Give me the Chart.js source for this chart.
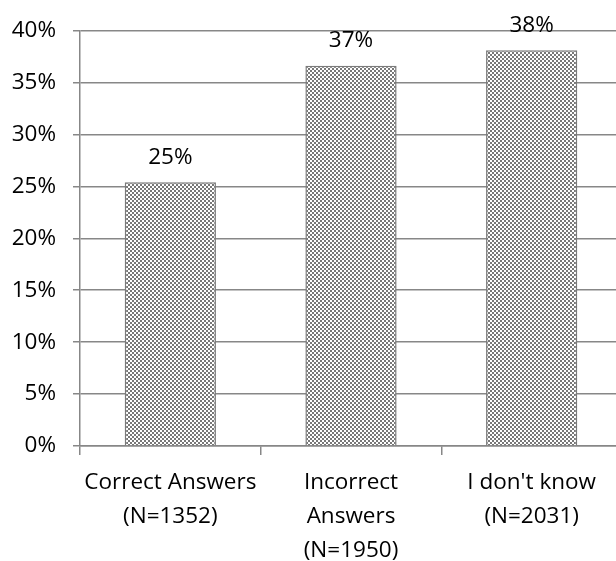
<!DOCTYPE html>
<html>
<head>
<meta charset="utf-8">
<script src="https://cdn.jsdelivr.net/npm/chart.js@4/dist/chart.umd.min.js"></script>
<style>
  html, body { margin: 0; padding: 0; background: #fff; overflow: hidden; }
  #wrap { width: 640px; height: 561px; }
</style>
</head>
<body>
<div id="wrap"><canvas id="chart" width="640" height="561"></canvas></div>
<script>
// answer categories (multi-line tick labels)
var categories = [
  ["Correct Answers", "(N=1352)"],
  ["Incorrect", "Answers", "(N=1950)"],
  ["I don't know", "(N=2031)"]
];
// share of answers, percent
var shares = [25.4, 36.6, 38.1];
var yTicks = [0, 5, 10, 15, 20, 25, 30, 35, 40];

var gridColor = "#878787";
var fontFamily = "'Open Sans', Lato, sans-serif";

function makePattern() {
  var c = document.createElement("canvas");
  c.width = 4; c.height = 4;
  var g = c.getContext("2d");
  g.fillStyle = "#ffffff";
  g.fillRect(0, 0, 4, 4);
  g.fillStyle = "#787878";
  g.fillRect(0, 0, 2, 2);
  g.fillRect(2, 2, 2, 2);
  return g.createPattern(c, "repeat");
}

var valueLabels = {
  id: "valueLabels",
  afterDatasetsDraw: function(chart) {
    var ctx = chart.ctx;
    var meta = chart.getDatasetMeta(0);
    ctx.save();
    ctx.font = "22.5px " + fontFamily;
    ctx.fillStyle = "#000";
    ctx.textAlign = "center";
    ctx.textBaseline = "middle";
    meta.data.forEach(function(bar, i) {
      var v = chart.data.datasets[0].data[i];
      ctx.fillText(Math.round(v) + "%", bar.x, bar.y - 25);
    });
    ctx.restore();
  }
};

var ctx = document.getElementById("chart");
var myChart = new Chart(ctx, {
  type: "bar",
  data: {
    labels: categories,
    datasets: [{
      data: shares,
      backgroundColor: makePattern(),
      borderColor: "#7a7a7a",
      borderWidth: 1.5,
      categoryPercentage: 1,
      barPercentage: 0.505
    }]
  },
  options: {
    responsive: false,
    animation: false,
    layout: { padding: { top: 27, right: 18, left: 0, bottom: 0 } },
    plugins: {
      legend: { display: false },
      tooltip: { enabled: false }
    },
    scales: {
      x: {
        grid: {
          offset: true,
          drawOnChartArea: false,
          drawTicks: true,
          tickLength: 9,
          color: gridColor,
          lineWidth: 1.5
        },
        border: { color: gridColor, width: 1.5 },
        ticks: {
          color: "#000",
          font: { family: fontFamily, size: 22.5, lineHeight: 1.53 },
          padding: 10,
          maxRotation: 0,
          autoSkip: false
        },
        afterFit: function(scale) { scale.height = 115; }
      },
      y: {
        min: 0,
        max: 40,
        afterBuildTicks: function(scale) {
          scale.ticks = yTicks.map(function(v) { return { value: v }; });
        },
        grid: {
          color: gridColor,
          lineWidth: 1.5,
          tickLength: 7
        },
        border: { color: gridColor, width: 1.5 },
        ticks: {
          color: "#000",
          font: { family: fontFamily, size: 22.5 },
          padding: 17,
          callback: function(v) { return v + "%"; }
        },
        afterFit: function(scale) { scale.width = 80; }
      }
    }
  },
  plugins: [valueLabels]
});
</script>
</body>
</html>
